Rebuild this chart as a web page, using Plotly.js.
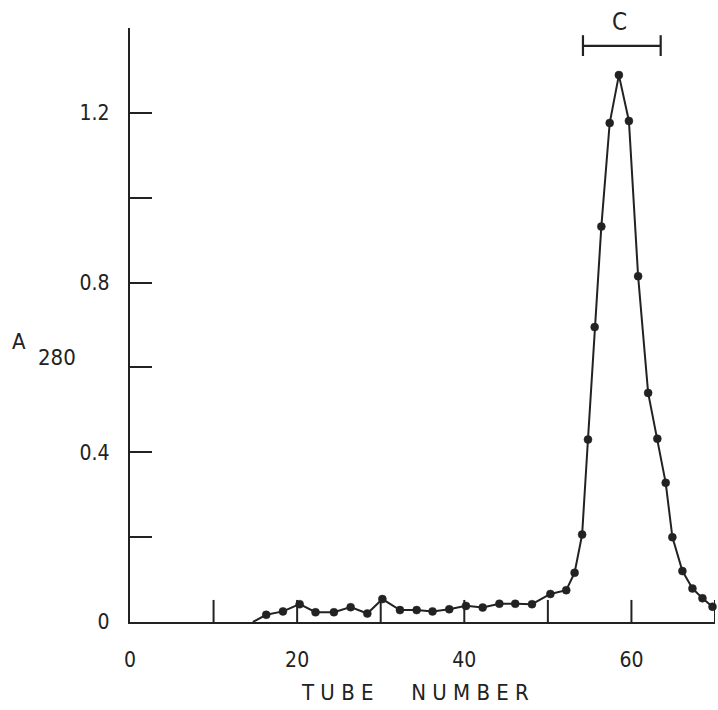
<!DOCTYPE html>
<html>
<head>
<meta charset="utf-8">
<script src="https://cdn.plot.ly/plotly-3.0.1.min.js"></script>
<style>html,body{margin:0;padding:0;background:#fff;}#chart{width:718px;height:710px;}</style>
</head>
<body>
<div id="chart"></div>
<script>
// Tube numbers and A280 readings
const tube = [14.7, 16.3, 18.3, 20.3, 22.2, 24.4, 26.4, 28.4, 30.2, 32.3, 34.3, 36.2, 38.2, 40.2, 42.2, 44.2, 46.1, 48.1, 50.3, 52.2, 53.2, 54.1, 54.8, 55.6, 56.4, 57.4, 58.5, 59.7, 60.8, 62.0, 63.1, 64.1, 64.9, 66.1, 67.3, 68.5, 69.7];
const a280 = [0, 0.017, 0.025, 0.042, 0.023, 0.023, 0.035, 0.020, 0.054, 0.028, 0.028, 0.025, 0.030, 0.038, 0.034, 0.043, 0.043, 0.042, 0.066, 0.075, 0.116, 0.206, 0.430, 0.695, 0.932, 1.176, 1.289, 1.181, 0.815, 0.540, 0.432, 0.328, 0.200, 0.120, 0.079, 0.056, 0.036];

const xLabelTicks = [0, 20, 40, 60];
const xLabelText = ['0', '20', '40', '60'];
const xTickMarks = [10, 20, 30, 40, 50, 60, 70];
const yTickVals = [0, 0.2, 0.4, 0.6, 0.8, 1.0, 1.2, 1.4];
const yTickText = ['0', '', '0.4', '', '0.8', '', '1.2', ''];

// Pooled fraction bracket "C"
const bracketX = [54.2, 63.5];
const bracketY = 1.358;
const bracketCap = [1.334, 1.383];
const bracketLabel = 'C';
const xTitle = 'T U B E      N U M B E R';

const ink = '#222222';
const fnt = 'DejaVu Sans Condensed, DejaVu Sans, sans-serif';
const tickLenY = 0.052; // inward x-tick length in y units (~22 px)

const trace = {
  x: tube, y: a280, type: 'scatter', mode: 'lines+markers',
  line: {color: ink, width: 2},
  marker: {color: ink, opacity: 1, size: tube.map((t, i) => i === 0 ? 0 : 8), line: {color: ink, width: 0.5}},
  cliponaxis: false, hoverinfo: 'skip'
};

const shapes = [
  {type: 'line', xref: 'x', yref: 'y', x0: bracketX[0], x1: bracketX[1], y0: bracketY, y1: bracketY, line: {color: ink, width: 2.2}},
  {type: 'line', xref: 'x', yref: 'y', x0: bracketX[0], x1: bracketX[0], y0: bracketCap[0], y1: bracketCap[1], line: {color: ink, width: 2.2}},
  {type: 'line', xref: 'x', yref: 'y', x0: bracketX[1], x1: bracketX[1], y0: bracketCap[0], y1: bracketCap[1], line: {color: ink, width: 2.2}}
].concat(xTickMarks.map(v => ({
  type: 'line', xref: 'x', yref: 'y', x0: v, x1: v, y0: 0, y1: tickLenY, layer: 'above', line: {color: ink, width: 2}
})));

const layout = {
  width: 718, height: 710,
  margin: {l: 130, r: 3, t: 28, b: 88},
  paper_bgcolor: '#ffffff', plot_bgcolor: '#ffffff',
  showlegend: false,
  font: {family: fnt, color: ink, size: 20},
  xaxis: {
    range: [0, 70], tickvals: xLabelTicks, ticktext: xLabelText,
    ticks: '', showline: true, linecolor: ink, linewidth: 2.2,
    showgrid: false, zeroline: false,
    tickfont: {family: fnt, size: 21, color: ink},
    ticklabelstandoff: 18
  },
  yaxis: {
    range: [0, 1.4], tickvals: yTickVals, ticktext: yTickText,
    ticks: 'inside', ticklen: 22, tickwidth: 2, tickcolor: ink,
    showline: true, linecolor: ink, linewidth: 2.2,
    showgrid: false, zeroline: false,
    tickfont: {family: fnt, size: 21, color: ink},
    ticklabelstandoff: 14
  },
  shapes: shapes,
  annotations: [
    {text: bracketLabel, xref: 'paper', yref: 'paper', x: 0.8376, y: 1.0101, xanchor: 'center', yanchor: 'middle', showarrow: false, font: {family: fnt, size: 24, color: ink}},
    {text: xTitle, xref: 'paper', yref: 'paper', x: 0.488, y: -0.1195, xanchor: 'center', yanchor: 'middle', showarrow: false, font: {family: fnt, size: 22, color: ink}},
    {text: 'A', xref: 'paper', yref: 'paper', x: -0.19, y: 0.472, xanchor: 'center', yanchor: 'middle', showarrow: false, font: {family: fnt, size: 22, color: ink}},
    {text: '280', xref: 'paper', yref: 'paper', x: -0.124, y: 0.446, xanchor: 'center', yanchor: 'middle', showarrow: false, font: {family: fnt, size: 22, color: ink}}
  ]
};

Plotly.newPlot('chart', [trace], layout, {displayModeBar: false, staticPlot: true});
</script>
</body>
</html>
